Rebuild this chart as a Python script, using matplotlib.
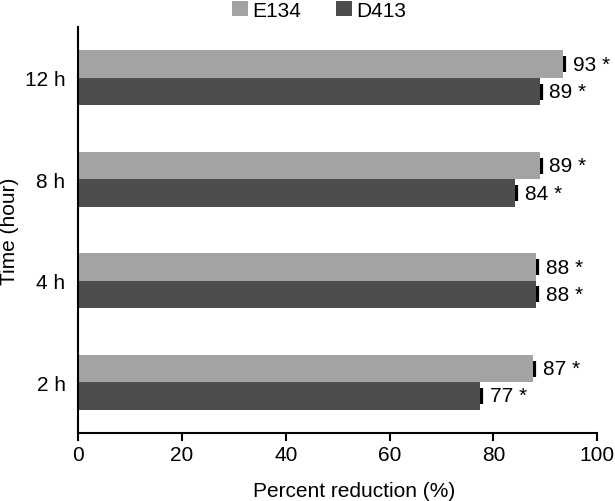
import matplotlib.pyplot as plt
import numpy as np

plt.rcParams['font.family'] = ['Liberation Sans', 'DejaVu Sans']

times = ['2 h', '4 h', '8 h', '12 h']
e134 = [87.6, 88.2, 88.9, 93.4]
d413 = [77.5, 88.2, 84.2, 88.9]
e134_err = [0.4, 0.4, 0.4, 0.4]
d413_err = [0.4, 0.4, 0.4, 0.4]
e134_labels = ['87 *', '88 *', '89 *', '93 *']
d413_labels = ['77 *', '88 *', '84 *', '89 *']

fig = plt.figure(figsize=(6.15, 5.02), dpi=100)
ax = fig.add_axes([0.127, 0.1355, 0.844, 0.8085])

y = np.arange(len(times))
h = 0.27
c_e = '#a3a3a3'
c_d = '#4d4d4d'
fs = 15

ax.barh(y + h / 2, e134, height=h, color=c_e, label='E134', zorder=2)
ax.barh(y - h / 2, d413, height=h, color=c_d, label='D413', zorder=2)

for vals, errs, yy in [(e134, e134_err, y + h / 2), (d413, d413_err, y - h / 2)]:
    ax.errorbar(vals, yy, xerr=[np.zeros(len(vals)), errs], fmt='none',
                ecolor='black', elinewidth=1, capsize=5.5, capthick=1.6, zorder=1)

for vals, errs, labels, yy in [(e134, e134_err, e134_labels, y + h / 2),
                               (d413, d413_err, d413_labels, y - h / 2)]:
    for v, e, lab, yi in zip(vals, errs, labels, yy):
        ax.text(v + e + 1.5, yi, lab, ha='left', va='center', fontsize=fs)

ax.set_xlim(0, 100)
ax.set_ylim(-0.5, 3.5)
ax.set_xticks([0, 20, 40, 60, 80, 100])
ax.set_yticks(y)
ax.set_yticklabels(times)
ax.tick_params(axis='x', direction='out', length=6, width=1.5, labelsize=fs, pad=3)
ax.tick_params(axis='y', length=0, labelsize=fs, pad=9)
for s in ['top', 'right']:
    ax.spines[s].set_visible(False)
for s in ['left', 'bottom']:
    ax.spines[s].set_linewidth(1.5)

ax.set_xlabel('Percent reduction (%)', fontsize=fs)
ax.xaxis.set_label_coords(0.532, -0.118)
ax.set_ylabel('Time (hour)', fontsize=fs, labelpad=4)

ax.legend(loc='upper center', bbox_to_anchor=(0.464, 1.085), ncol=2, frameon=False,
          fontsize=fs, handlelength=0.75, handleheight=0.75, handletextpad=0.2,
          columnspacing=1.7, borderaxespad=0)

fig.savefig('out.png', dpi=100)
